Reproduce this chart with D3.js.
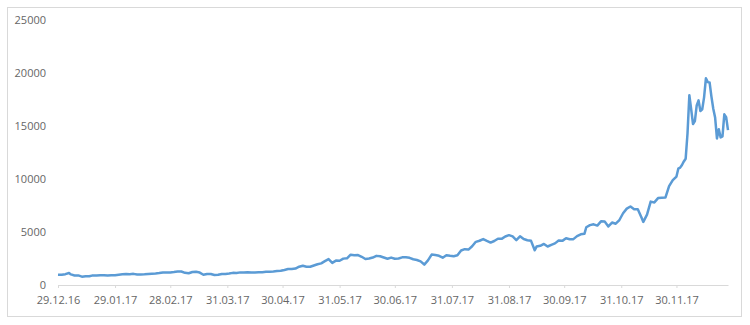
<!DOCTYPE html>
<html lang="en">
<head>
  <meta charset="UTF-8">
  <title>Price 2017</title>
  <script src="https://d3js.org/d3.v7.min.js"></script>
  <style>
    body { margin: 0; background: #fff; }
    text { font-family: "Open Sans", sans-serif; font-size: 11px; fill: #666; }
  </style>
</head>
<body>
<div id="chart"></div>
<script>
// dates of the readings (dd.mm.yy)
const dates = [
  "29.12.16","31.12.16","02.01.17","04.01.17","05.01.17","07.01.17","09.01.17","11.01.17","13.01.17","15.01.17",
  "17.01.17","19.01.17","21.01.17","23.01.17","25.01.17","27.01.17","29.01.17","31.01.17","02.02.17","04.02.17",
  "06.02.17","08.02.17","10.02.17","12.02.17","14.02.17","16.02.17","18.02.17","20.02.17","22.02.17","24.02.17",
  "26.02.17","28.02.17","02.03.17","04.03.17","06.03.17","08.03.17","10.03.17","12.03.17","14.03.17","16.03.17",
  "18.03.17","20.03.17","22.03.17","24.03.17","26.03.17","28.03.17","30.03.17","01.04.17","03.04.17","05.04.17",
  "07.04.17","09.04.17","11.04.17","13.04.17","15.04.17","17.04.17","19.04.17","21.04.17","23.04.17","25.04.17",
  "27.04.17","29.04.17","01.05.17","03.05.17","05.05.17","07.05.17","09.05.17","11.05.17","13.05.17","15.05.17",
  "17.05.17","19.05.17","21.05.17","23.05.17","25.05.17","27.05.17","29.05.17","31.05.17","02.06.17","04.06.17",
  "06.06.17","08.06.17","10.06.17","12.06.17","14.06.17","16.06.17","18.06.17","20.06.17","22.06.17","24.06.17",
  "26.06.17","28.06.17","30.06.17","02.07.17","04.07.17","06.07.17","08.07.17","10.07.17","12.07.17","14.07.17",
  "16.07.17","18.07.17","20.07.17","22.07.17","24.07.17","26.07.17","28.07.17","30.07.17","01.08.17","03.08.17",
  "05.08.17","07.08.17","09.08.17","11.08.17","13.08.17","15.08.17","17.08.17","19.08.17","21.08.17","23.08.17",
  "25.08.17","27.08.17","29.08.17","31.08.17","02.09.17","04.09.17","06.09.17","08.09.17","10.09.17","12.09.17",
  "14.09.17","15.09.17","17.09.17","19.09.17","21.09.17","23.09.17","25.09.17","27.09.17","29.09.17","01.10.17",
  "03.10.17","05.10.17","07.10.17","09.10.17","11.10.17","12.10.17","14.10.17","16.10.17","18.10.17","20.10.17",
  "22.10.17","24.10.17","26.10.17","28.10.17","30.10.17","01.11.17","03.11.17","05.11.17","07.11.17","09.11.17",
  "11.11.17","12.11.17","14.11.17","16.11.17","18.11.17","20.11.17","22.11.17","24.11.17","26.11.17","28.11.17",
  "29.11.17","30.11.17","01.12.17","02.12.17","03.12.17","04.12.17","05.12.17","06.12.17","07.12.17","08.12.17",
  "09.12.17","10.12.17","11.12.17","12.12.17","13.12.17","14.12.17","15.12.17","16.12.17","17.12.17","18.12.17",
  "19.12.17","20.12.17","21.12.17","22.12.17","23.12.17","24.12.17","25.12.17","26.12.17","27.12.17","28.12.17"
];

// price
const prices = [
  975, 964, 1021, 1130, 1000, 900, 903, 785, 826, 818,
  908, 900, 924, 922, 892, 920, 914, 970, 1010, 1040,
  1025, 1050, 996, 999, 1005, 1036, 1055, 1081, 1122, 1178,
  1172, 1190, 1222, 1265, 1275, 1150, 1110, 1226, 1244, 1172,
  970, 1046, 1040, 937, 966, 1046, 1038, 1079, 1144, 1134,
  1190, 1182, 1201, 1168, 1180, 1193, 1212, 1250, 1250, 1280,
  1318, 1348, 1421, 1510, 1508, 1555, 1723, 1820, 1725, 1725,
  1839, 1960, 2042, 2255, 2446, 2088, 2300, 2287, 2488, 2519,
  2863, 2805, 2823, 2660, 2449, 2496, 2589, 2748, 2709, 2590,
  2478, 2585, 2480, 2501, 2608, 2608, 2561, 2426, 2359, 2233,
  1929, 2320, 2868, 2828, 2754, 2576, 2809, 2757, 2718, 2807,
  3252, 3378, 3342, 3650, 4073, 4175, 4331, 4160, 4001, 4151,
  4364, 4352, 4579, 4703, 4582, 4236, 4597, 4337, 4228, 4166,
  3277, 3625, 3698, 3874, 3631, 3787, 3926, 4193, 4164, 4403,
  4310, 4326, 4611, 4778, 4826, 5446, 5648, 5725, 5605, 6006,
  5983, 5526, 5893, 5780, 6130, 6767, 7207, 7407, 7144, 7143,
  6357, 5950, 6635, 7868, 7790, 8200, 8232, 8253, 9330, 9888,
  10058, 10233, 10975, 11074, 11323, 11657, 11916, 14291, 17899, 16569,
  15178, 15455, 16937, 17415, 16408, 16564, 17706, 19498, 19140, 19114,
  17776, 16624, 15802, 13831, 14699, 13925, 14026, 16099, 15838, 14606
];

const xTickLabels = ["29.12.16","29.01.17","28.02.17","31.03.17","30.04.17","31.05.17",
  "30.06.17","31.07.17","31.08.17","30.09.17","31.10.17","30.11.17"];
const yTicks = [0, 5000, 10000, 15000, 20000, 25000];

const parse = d3.timeParse("%d.%m.%y");
const fmt = d3.timeFormat("%d.%m.%y");
const data = dates.map((d, i) => ({ date: parse(d), value: prices[i] }));

const W = 750, H = 325;
const svg = d3.select("#chart").append("svg")
  .attr("width", W)
  .attr("height", H);

// outer frame
svg.append("rect")
  .attr("x", 7.5).attr("y", 7.5)
  .attr("width", 734).attr("height", 309)
  .attr("fill", "none")
  .attr("stroke", "#d9d9d9");

const x = d3.scaleTime()
  .domain(d3.extent(data, d => d.date))
  .range([58, 728]);

const y = d3.scaleLinear()
  .domain([0, 25000])
  .range([285, 20]);

// x axis
const xAxis = svg.append("g")
  .attr("transform", `translate(0,${y(0)})`)
  .call(d3.axisBottom(x)
    .tickValues(xTickLabels.map(parse))
    .tickFormat(fmt)
    .tickSize(3)
    .tickSizeOuter(0)
    .tickPadding(8));
xAxis.select(".domain").attr("stroke", "#d9d9d9");
xAxis.selectAll(".tick line").attr("stroke", "#d9d9d9");
xAxis.selectAll("text").style("font-size", "11px").attr("fill", "#666");

// y axis labels only
const yAxis = svg.append("g")
  .attr("transform", "translate(46,0)")
  .call(d3.axisLeft(y).tickValues(yTicks).tickFormat(d3.format("d")).tickSize(0).tickPadding(0));
yAxis.select(".domain").remove();
yAxis.selectAll("text").style("font-size", "11px").attr("fill", "#666");

const line = d3.line()
  .x(d => x(d.date))
  .y(d => y(d.value));

svg.append("path")
  .datum(data)
  .attr("d", line)
  .attr("fill", "none")
  .attr("stroke", "#5b9bd5")
  .attr("stroke-width", 2.5)
  .attr("stroke-linejoin", "round");
</script>
</body>
</html>
